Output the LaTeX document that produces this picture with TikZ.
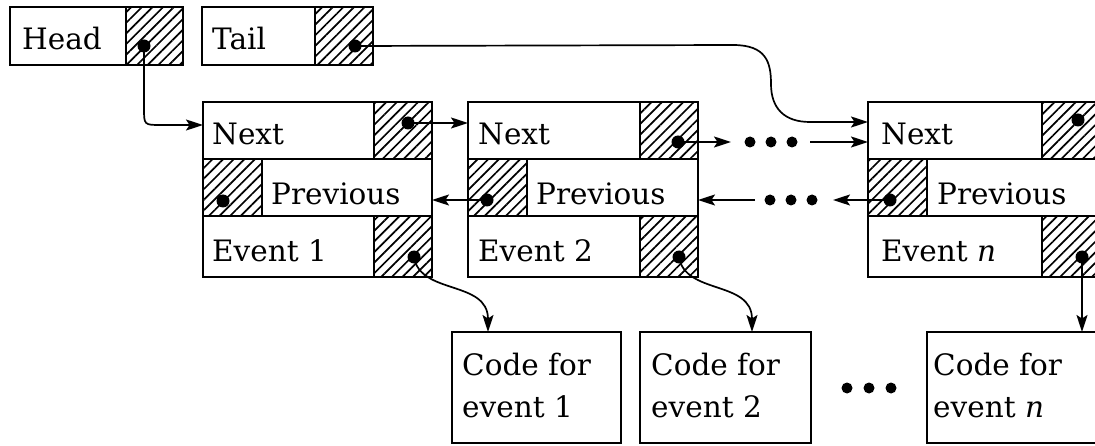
\documentclass[tikz,border=0pt]{standalone}
\usepackage{fontspec}
\setmainfont{DejaVu Serif}
\usetikzlibrary{arrows.meta,patterns.meta}
\tikzset{
  cell/.style={draw, line width=2.2pt, anchor=north west, inner sep=0pt, outer sep=0pt},
  hcell/.style={cell, pattern={Lines[angle=45,distance=7.5pt,line width=1.7pt]}},
  lbl/.style={anchor=base west, inner sep=0pt, font=\fontsize{29.5}{35}\selectfont},
  ptr/.style={circle, fill, inner sep=0pt, minimum size=13pt},
  ell/.style={circle, fill, inner sep=0pt, minimum size=11pt},
  arr/.style={line width=1.7pt, -{Stealth[length=17pt,width=11pt,inset=3.5pt]}},
}
\newcommand\mycell[6]{\node[#6, minimum width={#4pt-#2pt}, minimum height={#5pt-#3pt}] (#1) at (#2,#3) {};}
\begin{document}
\begin{tikzpicture}[x=1pt,y=-1pt]
\clip (0,0) rectangle (1095,446);
% Head / Tail
\mycell{head}{10}{7}{126}{65}{cell}
\mycell{headp}{126}{7}{183}{65}{hcell}
\mycell{tail}{202}{7}{315}{65}{cell}
\mycell{tailp}{315}{7}{373}{65}{hcell}
\node[lbl] (headt) at (22,50) {Head};
\node[lbl] (tailt) at (212,50) {Tail};
\node[ptr] (hd) at (144,46) {};
\node[ptr] (td) at (355,46) {};
% node 1
\mycell{n1a}{203}{102}{374}{159}{cell}
\mycell{n1ap}{374}{102}{432}{159}{hcell}
\mycell{n1bp}{203}{159}{262}{216}{hcell}
\mycell{n1b}{262}{159}{432}{216}{cell}
\mycell{n1c}{203}{216}{374}{277}{cell}
\mycell{n1cp}{374}{216}{432}{277}{hcell}
\node[lbl] (n1at) at (212,145) {Next};
\node[lbl] (n1bt) at (271,205) {Previous};
\node[lbl] (n1ct) at (212,262) {Event 1};
\node[ptr] (n1d1) at (408,123) {};
\node[ptr] (n1d2) at (223,201) {};
\node[ptr] (n1d3) at (414,257) {};
% node 2
\mycell{n2a}{468}{102}{640}{159}{cell}
\mycell{n2ap}{640}{102}{698}{159}{hcell}
\mycell{n2bp}{468}{159}{527}{216}{hcell}
\mycell{n2b}{527}{159}{698}{216}{cell}
\mycell{n2c}{468}{216}{640}{277}{cell}
\mycell{n2cp}{640}{216}{698}{277}{hcell}
\node[lbl] (n2at) at (478,145) {Next};
\node[lbl] (n2bt) at (536,205) {Previous};
\node[lbl] (n2ct) at (478,262) {Event 2};
\node[ptr] (n2d1) at (678,142) {};
\node[ptr] (n2d2) at (487,200) {};
\node[ptr] (n2d3) at (679,257) {};
% node n
\mycell{nna}{868}{102}{1042}{159}{cell}
\mycell{nnap}{1042}{102}{1100}{159}{hcell}
\mycell{nnbp}{868}{159}{927}{216}{hcell}
\mycell{nnb}{927}{159}{1100}{216}{cell}
\mycell{nnc}{868}{216}{1042}{277}{cell}
\mycell{nncp}{1042}{216}{1100}{277}{hcell}
\node[lbl] (nnat) at (881,145) {Next};
\node[lbl] (nnbt) at (937,205) {Previous};
\node[lbl] (nnct) at (881,262) {Event \textit{n}};
\node[ptr] (nnd1) at (1078,120) {};
\node[ptr] (nnd2) at (890,200) {};
\node[ptr] (nnd3) at (1082,257) {};
% code boxes
\mycell{c1}{452}{332}{621}{443}{cell}
\mycell{c2}{640}{332}{811}{443}{cell}
\mycell{cn}{927}{332}{1097}{443}{cell}
\node[lbl] (c1t1) at (462,375) {Code for};
\node[lbl] (c1t2) at (462,417) {event 1};
\node[lbl] (c2t1) at (651,375) {Code for};
\node[lbl] (c2t2) at (651,417) {event 2};
\node[lbl] (cnt1) at (933,375) {Code for};
\node[lbl] (cnt2) at (933,417) {event \textit{n}};
% ellipses
\node[ell] (e1a) at (750,142) {};
\node[ell] (e1b) at (771,142) {};
\node[ell] (e1c) at (792,142) {};
\node[ell] (e2a) at (770,200) {};
\node[ell] (e2b) at (791,200) {};
\node[ell] (e2c) at (812,200) {};
\node[ell] (e3a) at (847,388) {};
\node[ell] (e3b) at (869,388) {};
\node[ell] (e3c) at (891,388) {};
% helper coordinates
\coordinate (y125) at (0,125);
\coordinate (y122) at (0,122);
\coordinate (na1) at (731,142);
\coordinate (na2) at (810,142);
\coordinate (pa1) at (755,200);
\coordinate (pa2) at (833,200);
\coordinate (cx1) at (488,0);
\coordinate (cx2) at (752,0);
% connectors
\draw[arr] (hd.center) -- (144,108) .. controls (144,125) .. (161,125) -- (n1a.west |- y125);
\draw[arr] (td.center) -- (733,45) .. controls (766,45) and (771,62) .. (771,84)
   .. controls (771,108) and (784,122) .. (810,122) -- (nna.west |- y122);
\draw[arr] (n1d1.center) -- (n2a.west |- n1d1);
\draw[arr] (n2d1.center) -- (na1);
\draw[arr] (na2) -- (nna.west |- na2);
\draw[arr] (n2d2.center) -- (n1b.east |- n2d2);
\draw[arr] (pa1) -- (n2b.east |- pa1);
\draw[arr] (nnd2.center) -- (pa2);
\draw[arr] (n1d3.center) .. controls (420,295) and (488,280) .. (c1.north -| cx1);
\draw[arr] (n2d3.center) .. controls (685,295) and (752,280) .. (c2.north -| cx2);
\draw[arr] (nnd3.center) -- (cn.north -| nnd3);
\end{tikzpicture}
\end{document}
